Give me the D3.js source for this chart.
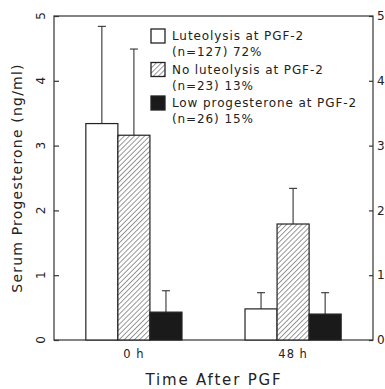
<!DOCTYPE html>
<html>
<head>
<meta charset="utf-8">
<script src="https://cdn.jsdelivr.net/npm/d3@7"></script>
<style>
  body { margin: 0; background: #fff; }
  text { font-family: "DejaVu Sans", sans-serif; fill: #222; }
</style>
</head>
<body>
<svg id="chart"></svg>
<script>
const times = ['0 h', '48 h'];
const groups = ['luteolysis', 'noLuteolysis', 'lowP4'];
const legendLines = [
  ['Luteolysis at PGF-2', '(n=127) 72%'],
  ['No luteolysis at PGF-2', '(n=23) 13%'],
  ['Low progesterone at PGF-2', '(n=26) 15%'],
];
// mean and upper SD per group, per time point
const meanValues = [
  [3.34, 3.16, 0.43],
  [0.48, 1.79, 0.40],
];
const errValues = [
  [4.84, 4.49, 0.76],
  [0.73, 2.34, 0.73],
];
const yTicks = [0, 1, 2, 3, 4, 5];

const W = 385, H = 389;
const margin = { top: 16, right: 12, bottom: 49, left: 54 };
const width = W - margin.left - margin.right;
const height = H - margin.top - margin.bottom;

const svg = d3.select('#chart').attr('width', W).attr('height', H);

const defs = svg.append('defs');
const pat = defs.append('pattern')
  .attr('id', 'hatch')
  .attr('patternUnits', 'userSpaceOnUse')
  .attr('width', 3.6).attr('height', 3.6)
  .attr('patternTransform', 'rotate(45)');
pat.append('rect').attr('width', 3.6).attr('height', 3.6).attr('fill', '#fff');
pat.append('line')
  .attr('x1', 0).attr('y1', 0).attr('x2', 0).attr('y2', 3.6)
  .attr('stroke', '#333').attr('stroke-width', 1);

const fills = { luteolysis: '#fff', noLuteolysis: 'url(#hatch)', lowP4: '#1a1a1a' };

const g = svg.append('g').attr('transform', `translate(${margin.left},${margin.top})`);

const x0 = d3.scaleBand().domain(times).range([0, width]).paddingInner(0.396).paddingOuter(0.2);
const x1 = d3.scaleBand().domain(groups).range([0, x0.bandwidth()]);
const y = d3.scaleLinear().domain([0, 5]).range([height, 0]);

// frame
g.append('rect')
  .attr('width', width).attr('height', height)
  .attr('fill', 'none').attr('stroke', '#333').attr('stroke-width', 1.2);

// left axis (inward ticks, rotated labels)
const yLeft = g.append('g')
  .call(d3.axisRight(y).tickValues(yTicks).tickSize(5).tickFormat(''));
yLeft.select('.domain').remove();
yLeft.selectAll('.tick line').attr('stroke', '#333').attr('stroke-width', 1.2);
g.selectAll('.ylab')
  .data(yTicks)
  .enter()
  .append('text')
  .attr('class', 'ylab')
  .attr('transform', (d) => `translate(-9,${y(d)}) rotate(-90)`)
  .attr('text-anchor', 'middle')
  .attr('font-size', 12)
  .text((d) => d);

// right axis
const yRight = g.append('g')
  .attr('transform', `translate(${width},0)`)
  .call(d3.axisLeft(y).tickValues(yTicks).tickSize(4).tickFormat(''));
yRight.select('.domain').remove();
yRight.selectAll('.tick line').attr('stroke', '#333').attr('stroke-width', 1.2);
g.selectAll('.rlab')
  .data(yTicks)
  .enter()
  .append('text')
  .attr('class', 'rlab')
  .attr('x', width + 4)
  .attr('y', (d) => y(d))
  .attr('dy', '0.35em')
  .attr('font-size', 12)
  .text((d) => d);

// x axis labels
const xAxis = g.append('g')
  .attr('transform', `translate(0,${height})`)
  .call(d3.axisBottom(x0).tickSize(0).tickPadding(10));
xAxis.select('.domain').remove();
xAxis.selectAll('text')
  .attr('font-size', 11.5)
  .attr('font-family', '"DejaVu Sans", sans-serif')
  .attr('letter-spacing', 1)
  .attr('fill', '#222');

// bars
times.forEach((t, ti) => {
  const grp = g.append('g').attr('transform', `translate(${x0(t)},0)`);
  groups.forEach((k, ki) => {
    const bx = x1(k);
    const bw = x1.bandwidth();
    const cx = bx + bw / 2;
    // error bar
    grp.append('line')
      .attr('x1', cx).attr('x2', cx)
      .attr('y1', y(meanValues[ti][ki])).attr('y2', y(errValues[ti][ki]))
      .attr('stroke', '#333').attr('stroke-width', 1.1);
    grp.append('line')
      .attr('x1', cx - 4).attr('x2', cx + 4)
      .attr('y1', y(errValues[ti][ki])).attr('y2', y(errValues[ti][ki]))
      .attr('stroke', '#333').attr('stroke-width', 1.1);
    grp.append('rect')
      .attr('x', bx).attr('width', bw)
      .attr('y', y(meanValues[ti][ki]))
      .attr('height', y(0) - y(meanValues[ti][ki]))
      .attr('fill', fills[k])
      .attr('stroke', '#222').attr('stroke-width', 1.2);
  });
});

// legend
const legend = svg.append('g').attr('transform', 'translate(151,29)');
groups.forEach((k, i) => {
  const row = legend.append('g').attr('transform', `translate(0,${i * 33.5})`);
  row.append('rect')
    .attr('width', 14).attr('height', 14)
    .attr('fill', fills[k])
    .attr('stroke', '#222').attr('stroke-width', 1.3);
  row.append('text')
    .attr('x', 21).attr('y', 11)
    .attr('font-size', 12).attr('letter-spacing', 0.9)
    .text(legendLines[i][0]);
  row.append('text')
    .attr('x', 21).attr('y', 27)
    .attr('font-size', 12).attr('letter-spacing', 0.9)
    .text(legendLines[i][1]);
});

// axis titles
svg.append('text')
  .attr('transform', `translate(22,${margin.top + height / 2}) rotate(-90)`)
  .attr('text-anchor', 'middle')
  .attr('font-size', 14)
  .attr('letter-spacing', 1.2)
  .text('Serum Progesterone (ng/ml)');

svg.append('text')
  .attr('x', 214).attr('y', 385)
  .attr('text-anchor', 'middle')
  .attr('font-size', 15)
  .attr('letter-spacing', 1.8)
  .text('Time After PGF');
</script>
</body>
</html>
